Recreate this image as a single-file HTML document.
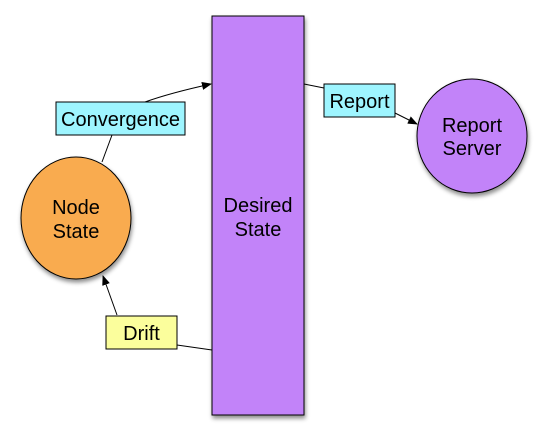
<!DOCTYPE html>
<html><head><style>body{margin:0;background:#fff}</style></head><body>
<svg width="547" height="441" xmlns="http://www.w3.org/2000/svg" font-family="Liberation Sans, sans-serif" font-size="20">
<defs>
<marker id="a" markerWidth="10" markerHeight="8" refX="9" refY="4" orient="auto" markerUnits="userSpaceOnUse"><path d="M0,0 L10,4 L0,8 Z" fill="#000"/></marker>
<filter id="s" x="-20%" y="-20%" width="150%" height="150%"><feDropShadow dx="1" dy="3" stdDeviation="2" flood-opacity="0.45"/></filter>
</defs>
<rect x="212" y="16" width="92" height="399" fill="#c283f9" stroke="#000" filter="url(#s)"/>
<text x="258" y="212" text-anchor="middle">Desired</text>
<text x="258" y="236" text-anchor="middle">State</text>
<ellipse cx="76" cy="218" rx="55" ry="61" fill="#f9ab50" stroke="#000" filter="url(#s)"/>
<text x="76" y="214" text-anchor="middle">Node</text>
<text x="76" y="238" text-anchor="middle">State</text>
<ellipse cx="472" cy="136" rx="55" ry="57" fill="#c283f9" stroke="#000" filter="url(#s)"/>
<text x="472" y="132" text-anchor="middle">Report</text>
<text x="472" y="155" text-anchor="middle">Server</text>
<g stroke="#000" fill="none">
<line x1="102" y1="162" x2="112" y2="135"/>
<path d="M145,102 Q170,93 211,84" marker-end="url(#a)"/>
<line x1="117" y1="315" x2="103" y2="276" marker-end="url(#a)"/>
<line x1="177" y1="345" x2="212" y2="350"/>
<line x1="304" y1="84" x2="324" y2="88"/>
<line x1="395" y1="113" x2="417" y2="124" marker-end="url(#a)"/>
</g>
<rect x="56" y="102" width="129" height="33" fill="#9ef5ff" stroke="#000"/>
<text x="120.5" y="126" text-anchor="middle">Convergence</text>
<rect x="324" y="84" width="71" height="33" fill="#9ef5ff" stroke="#000"/>
<text x="359.5" y="108" text-anchor="middle">Report</text>
<rect x="106" y="316" width="71" height="33" fill="#fbfe9c" stroke="#000"/>
<text x="141.5" y="340" text-anchor="middle">Drift</text>
</svg>
</body></html>
